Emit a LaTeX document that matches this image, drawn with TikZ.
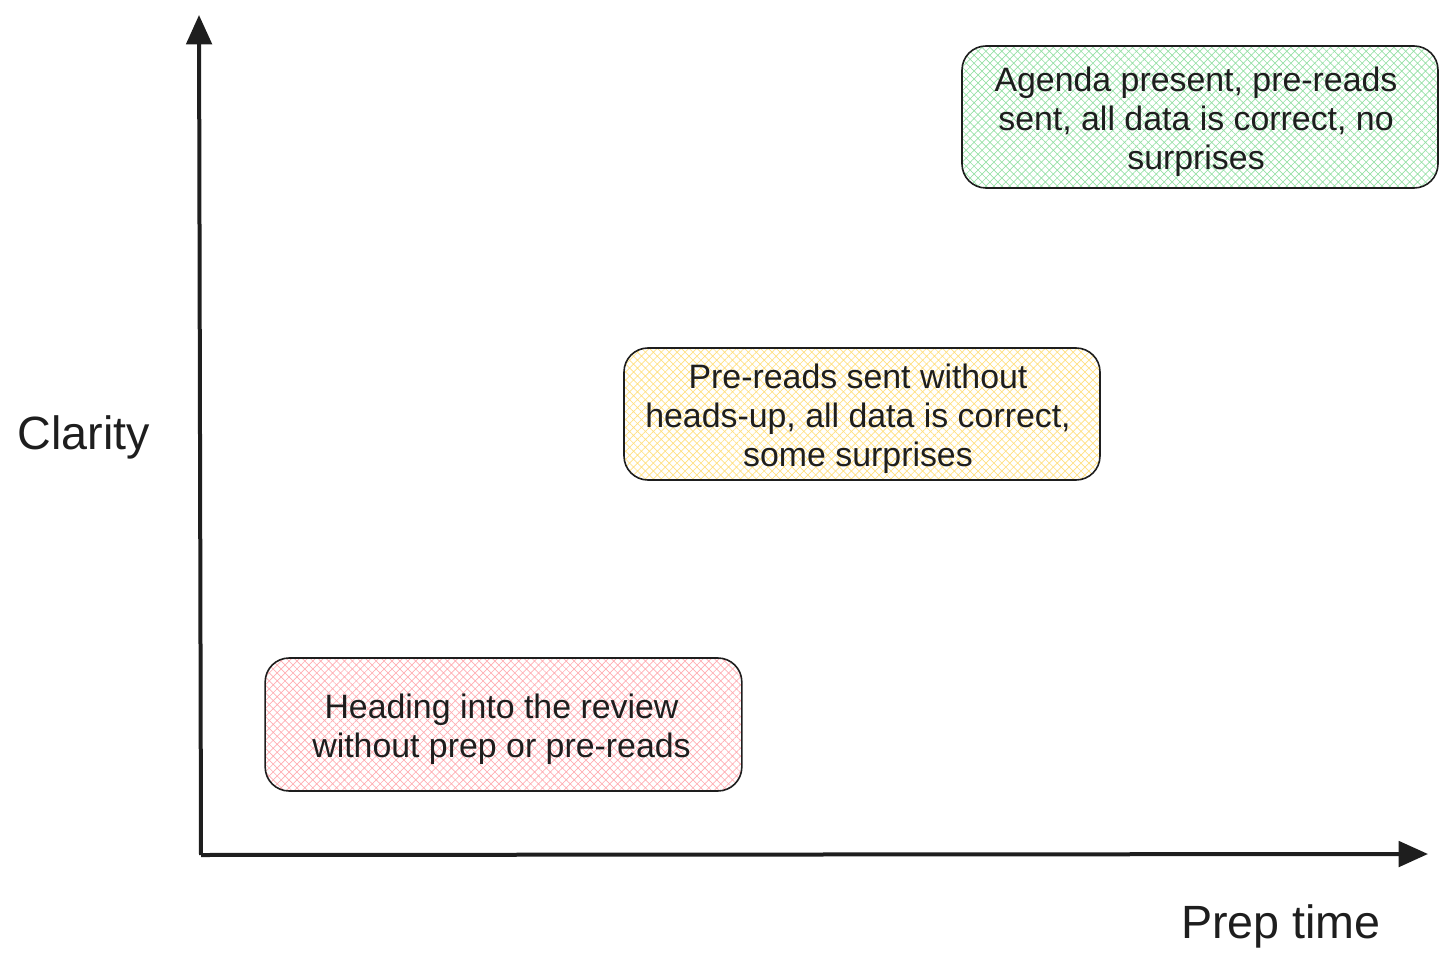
\documentclass[tikz,border=0pt]{standalone}
\usepackage{fontspec}
\setmainfont{Liberation Sans}
\usetikzlibrary{arrows.meta,patterns.meta}
\definecolor{ink}{HTML}{1E1E1E}
\definecolor{gcol}{HTML}{96E0A6}
\definecolor{ycol}{HTML}{FFDF80}
\definecolor{rcol}{HTML}{FFADB2}
\begin{document}
\begin{tikzpicture}[x=0.75pt,y=-0.75pt,
  axis/.style={draw=ink,line width=3pt,-{Triangle[length=22pt,width=19pt]}},
  box/.style={draw=ink,line width=1.2pt,rounded corners=18pt,
    pattern={Hatch[angle=45,distance=4.2pt,line width=0.5pt]},
    inner sep=0pt},
  boxtext/.style={align=center,inner sep=0pt,text=ink,
    font=\fontsize{25.4pt}{29.25pt}\selectfont},
  lbl/.style={text=ink,inner sep=0pt,font=\fontsize{35pt}{40pt}\selectfont}]
\useasboundingbox (0,0) rectangle (1456,966);
\coordinate (O) at (201,855);
\coordinate (Ytop) at (199,15);
\coordinate (Xend) at (1428,854);
\draw[axis] (O) -- (Ytop);
\draw[axis] (O) -- (Xend);
\node[box,pattern color=gcol,minimum width=357pt,minimum height=106.5pt] (good) at (1200,117) {};
\node[box,pattern color=ycol,minimum width=357pt,minimum height=99pt] (mid) at (862,414) {};
\node[box,pattern color=rcol,minimum width=357.5pt,minimum height=99.75pt] (bad) at (503.5,724.5) {};
\node[boxtext,xshift=-3pt,yshift=-3.3pt] (goodtext) at (good.center)
  {Agenda present, pre-reads\\sent, all data is correct, no\\surprises};
\node[boxtext,xshift=-3pt,yshift=-3.5pt] (midtext) at (mid.center)
  {Pre-reads sent without\\heads-up, all data is correct,\\some surprises};
\node[boxtext,xshift=-1.5pt,yshift=-3.5pt] (badtext) at (bad.center)
  {Heading into the review\\without prep or pre-reads};
\node[lbl] (clarity) at (84,437) {Clarity};
\node[lbl] (prep) at (1281,926) {Prep time};
\end{tikzpicture}
\end{document}
